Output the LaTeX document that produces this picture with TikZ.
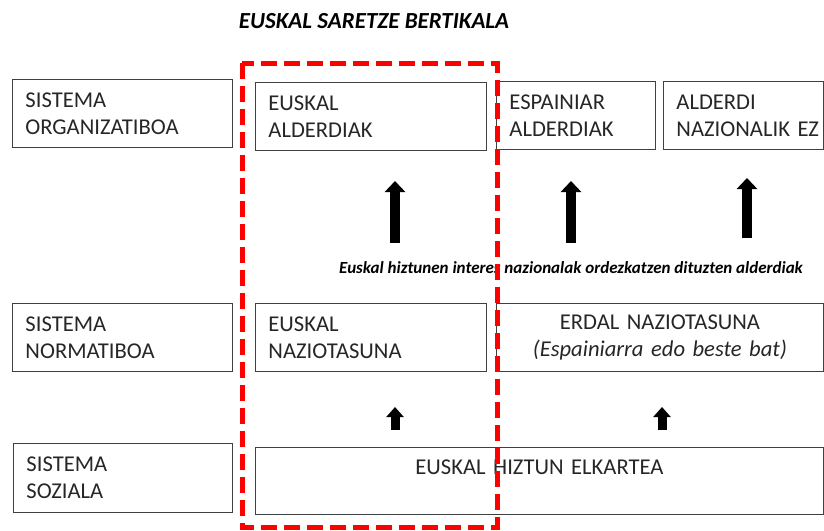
\documentclass[tikz,border=0pt]{standalone}
\usepackage{fontspec}
\setmainfont{Carlito}
\usetikzlibrary{arrows.meta}

\begin{document}
\begin{tikzpicture}[x=1pt,y=-1pt,
    blk/.style={draw=black!75,line width=0.9pt,anchor=north west,minimum height=68pt,inner xsep=13pt,inner ysep=0pt,
      align=left,text=black!85,font=\fontsize{22.6}{27}\selectfont},
    up/.style={line width=10pt,-{Triangle[length=11pt,width=20pt]}},
    upsm/.style={line width=9pt,-{Triangle[length=10pt,width=17pt]}}]
  \useasboundingbox (0,0) rectangle (824,530);
  \node[font=\fontsize{23}{27}\selectfont\bfseries\itshape] (title) at (374,21) {EUSKAL SARETZE BERTIKALA};
  % left column
  \node[blk,text width=194pt] (orgsys) at (12,79) {SISTEMA\\ORGANIZATIBOA};
  \node[blk,text width=194pt] (normsys) at (12,303) {SISTEMA\\NORMATIBOA};
  \node[blk,text width=193pt,minimum height=69pt] (sozsys) at (13,443) {SISTEMA\\SOZIALA};
  % parties
  \node[blk,text width=205pt] (eusald) at (255,82) {EUSKAL\\ALDERDIAK};
  \node[blk,text width=133pt] (espald) at (496,81) {ESPAINIAR\\ALDERDIAK};
  \node[blk,text width=134pt] (nazez) at (663,81) {ALDERDI\\\mbox{NAZIONALIK EZ}};
  % nationalities
  \node[blk,text width=205pt] (eusnaz) at (255,303) {EUSKAL\\NAZIOTASUNA};
  \node[blk,text width=301pt,align=center] (erdnaz) at (496,303) {ERDAL NAZIOTASUNA\\\textit{(Espainiarra edo beste bat)}};
  \node[blk,text width=542pt,minimum height=67pt,align=center] (elk) at (255,447) {EUSKAL HIZTUN ELKARTEA\\\mbox{}};
  \node[font=\fontsize{17}{20}\selectfont\bfseries\itshape] (lbl) at (571,268) {Euskal hiztunen interes nazionalak ordezkatzen dituzten alderdiak};
  % arrows
  \coordinate (a1) at (395,243); \coordinate (b1) at (395,181);
  \coordinate (a2) at (571,243); \coordinate (b2) at (571,181);
  \coordinate (a3) at (747,238); \coordinate (b3) at (747,178);
  \coordinate (a4) at (395,430); \coordinate (b4) at (395,407);
  \coordinate (a5) at (662,430); \coordinate (b5) at (662,407);
  \draw[up] (a1) -- (b1);
  \draw[up] (a2) -- (b2);
  \draw[up] (a3) -- (b3);
  \draw[upsm] (a4) -- (b4);
  \draw[upsm] (a5) -- (b5);
  % frame
  \draw[red,line width=5pt,dash pattern=on 16pt off 7pt] (242,63) rectangle (497,527);
\end{tikzpicture}
\end{document}
